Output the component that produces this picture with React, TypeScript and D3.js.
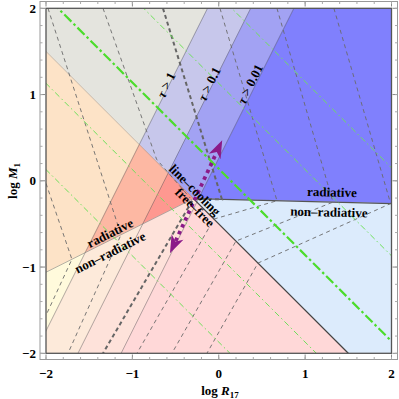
import React from "react";
import * as d3 from "d3";

type Pt = [number, number];

// optical depth lines: log M = 2 log R + b
const tauSlope = 2;
const tauIntercepts = [2.26, 1.26, 0.26];
const tauNames = ["1", "0.1", "0.01"];

// line-cooling / free-free boundary
const coolingLine: Pt = [-1, -0.5];
// radiative / non-radiative boundary (left part on free-free side, right part on line-cooling side)
const radLeft: Pt = [0.5, -0.06];
const radRight: Pt = [-0.025, -0.214];

// green dash-dot lines, log M = -log R + c
const greenSlope = -1;
const greenIntercepts = [2.15, 1.13, 0.14, -0.87, -1.87];
const greenThickIndex = 2;

// gray dashed contours
const contours: Pt[][] = [
  [[-2, -0.03], [-1.7, -0.91], [-2, -1.56]],
  [[-1.977, 2], [-1.132, -0.626], [-1.745, -2]],
  [[-1.34, 2], [-0.72, 0.25], [-0.33, -0.2]],
  [[0.014, 2], [0.674, -0.231], [-0.056, -0.444], [-0.947, -2]],
  [[0.674, 2], [1.322, -0.247], [0.199, -0.699], [-0.542, -2]],
  [[1.333, 2], [1.99, -0.264], [0.454, -0.954], [-0.137, -2]],
];
const thickContour: Pt[] = [[-0.646, 2], [0.037, -0.215], [-0.293, -0.207], [-1.34, -2]];

// purple arrow (lower tip, upper tip)
const arrowEnds: Pt[] = [[-0.565, -0.84], [0.04, 0.47]];

const xTicks = [-2, -1, 0, 1, 2];
const yTicks = [-2, -1, 0, 1, 2];

const palette = {
  lcRad: ["#e4e4de", "#c7c7eb", "#a2a2f3", "#8080fd"],
  lcNon: ["#dcebfc", "#dcebfc", "#dcebfc", "#dcebfc"],
  ffRad: ["#fde3c7", "#fdb8a3", "#fe9890", "#ff8c8c"],
  ffNon: ["#fffadc", "#fdeada", "#fee2da", "#ffd8d8"],
};

const FONT = "'Liberation Serif', 'DejaVu Serif', serif";

function clipHalf(poly: Pt[], line: Pt, above: boolean): Pt[] {
  const f = (p: Pt) => (above ? 1 : -1) * (p[1] - line[0] * p[0] - line[1]);
  const out: Pt[] = [];
  for (let i = 0; i < poly.length; i++) {
    const p = poly[i];
    const q = poly[(i + 1) % poly.length];
    const fp = f(p);
    const fq = f(q);
    if (fp >= 0) out.push(p);
    if (fp >= 0 !== fq >= 0) {
      const t = fp / (fp - fq);
      out.push([p[0] + t * (q[0] - p[0]), p[1] + t * (q[1] - p[1])]);
    }
  }
  return out;
}

const fmt = (d: number) => (d < 0 ? "\u2212" + Math.abs(d) : String(d));

export default function App() {
  const x = d3.scaleLinear().domain([-2, 2]).range([46, 391.5]);
  const y = d3.scaleLinear().domain([-2, 2]).range([353.3, 8.3]);
  const line = d3
    .line<Pt>()
    .x((d) => x(d[0]))
    .y((d) => y(d[1]));

  const square: Pt[] = [[-2, -2], [2, -2], [2, 2], [-2, 2]];
  const tauLines: Pt[] = tauIntercepts.map((b) => [tauSlope, b] as Pt);

  const physics: { key: keyof typeof palette; cuts: [Pt, boolean][] }[] = [
    { key: "lcRad", cuts: [[coolingLine, true], [radRight, true]] },
    { key: "lcNon", cuts: [[coolingLine, true], [radRight, false]] },
    { key: "ffRad", cuts: [[coolingLine, false], [radLeft, true]] },
    { key: "ffNon", cuts: [[coolingLine, false], [radLeft, false]] },
  ];

  const cells: { d: string; fill: string }[] = [];
  physics.forEach((ph) => {
    for (let bin = 0; bin < 4; bin++) {
      let poly = square;
      ph.cuts.forEach(([l, a]) => (poly = clipHalf(poly, l, a)));
      if (bin > 0) poly = clipHalf(poly, tauLines[bin - 1], false);
      if (bin < 3) poly = clipHalf(poly, tauLines[bin], true);
      if (poly.length < 3) continue;
      const fill = palette[ph.key][bin];
      cells.push({ d: line(poly) + "Z", fill });
    }
  });

  // junction of cooling line and left radiative line
  const jx = (radLeft[1] - coolingLine[1]) / (coolingLine[0] - radLeft[0]);
  const jy = coolingLine[0] * jx + coolingLine[1];

  const lineAt = (l: Pt, x0: number, x1: number): Pt[] => [
    [x0, l[0] * x0 + l[1]],
    [x1, l[0] * x1 + l[1]],
  ];

  // purple arrows
  const p0: Pt = [x(arrowEnds[0][0]), y(arrowEnds[0][1])];
  const p1: Pt = [x(arrowEnds[1][0]), y(arrowEnds[1][1])];
  const len = Math.hypot(p1[0] - p0[0], p1[1] - p0[1]);
  const u: Pt = [(p1[0] - p0[0]) / len, (p1[1] - p0[1]) / len];
  const n: Pt = [-u[1], u[0]];
  const L = 18;
  const hw = 6.5;
  const head = (tip: Pt, s: number) => {
    const bx = tip[0] - s * u[0] * L;
    const by = tip[1] - s * u[1] * L;
    const nx = tip[0] - s * u[0] * L * 0.72;
    const ny = tip[1] - s * u[1] * L * 0.72;
    return `M${tip[0]},${tip[1]}L${bx + n[0] * hw},${by + n[1] * hw}L${nx},${ny}L${bx - n[0] * hw},${by - n[1] * hw}Z`;
  };
  const b0: Pt = [p0[0] + u[0] * L * 0.75, p0[1] + u[1] * L * 0.75];
  const b1: Pt = [p1[0] - u[0] * L * 0.75, p1[1] - u[1] * L * 0.75];

  const angle = (slope: number) =>
    (Math.atan2(-(slope * 86.25), 86.4) * 180) / Math.PI;

  const labels = [
    { t: "rad", text: "radiative", at: [1.31, -0.13] as Pt, rot: angle(radRight[0]) },
    { t: "rad", text: "non\u2013radiative", at: [1.275, -0.362] as Pt, rot: angle(radRight[0]) },
    { t: "rad", text: "radiative", at: [-1.259, -0.605] as Pt, rot: angle(radLeft[0]) },
    { t: "rad", text: "non\u2013radiative", at: [-1.259, -0.83] as Pt, rot: angle(radLeft[0]) },
    { t: "rad", text: "line\u2013cooling", at: [-0.275, -0.107] as Pt, rot: angle(coolingLine[0]) },
    { t: "rad", text: "free\u2013free", at: [-0.275, -0.31] as Pt, rot: angle(coolingLine[0]) },
  ];
  const tauLabelAt: Pt[] = [[-0.611, 1.111], [-0.113, 1.122], [0.361, 1.122]];

  const minor = d3.range(-2, 2.001, 0.2).map((v) => +v.toFixed(2));

  return (
    <svg
      width={399}
      height={399}
      style={{ position: "absolute", left: 0, top: 0, background: "#fff" }}
      fontFamily={FONT}
    >
      <defs>
        <clipPath id="plotclip">
          <rect x={46} y={8.3} width={345.5} height={345} />
        </clipPath>
      </defs>
      <g clipPath="url(#plotclip)">
        {cells.map((c, i) => (
          <path key={i} d={c.d} fill={c.fill} stroke={c.fill} strokeWidth={0.6} />
        ))}
        {tauLines.map((l, i) => (
          <path key={"tau" + i} d={line(lineAt(l, -3, 3)) || ""} stroke="#555" strokeOpacity={0.45} strokeWidth={1} fill="none" />
        ))}
        <path d={line(lineAt(coolingLine, -2.5, jx)) || ""} stroke="#777" strokeOpacity={0.4} strokeWidth={1} fill="none" />
        <path d={line(lineAt(coolingLine, jx, 2.5)) || ""} stroke="#444" strokeWidth={1.3} fill="none" />
        <path d={line(lineAt(radLeft, -2.5, jx)) || ""} stroke="#777" strokeOpacity={0.55} strokeWidth={1} fill="none" />
        <path d={line(lineAt(radRight, jx, 2.5)) || ""} stroke="#555" strokeWidth={1.3} fill="none" />

        {contours.map((c, i) => (
          <path key={"c" + i} d={line(c) || ""} stroke="#6a6a6a" strokeWidth={0.9} strokeDasharray="4 3.5" fill="none" />
        ))}
        <path d={line(thickContour) || ""} stroke="#666" strokeWidth={2} strokeDasharray="4 3" fill="none" />

        {greenIntercepts.map((c, i) => (
          <path
            key={"g" + i}
            d={line(lineAt([greenSlope, c], -3, 3)) || ""}
            stroke={i === greenThickIndex ? "#4cdc2c" : "#6ee05a"}
            strokeWidth={i === greenThickIndex ? 2.2 : 1}
            strokeDasharray={i === greenThickIndex ? "10 3 2.5 3" : "6 3 1.5 3"}
            fill="none"
          />
        ))}

        <path
          d={`M${b0[0]},${b0[1]}L${b1[0]},${b1[1]}`}
          stroke="#8b1a89"
          strokeWidth={3.8}
          strokeDasharray="3.5 4"
          fill="none"
        />
        <path d={head(p1, 1)} fill="#8b1a89" />
        <path d={head(p0, -1)} fill="#8b1a89" />
      </g>

      {tauNames.map((t, i) => {
        const [lx, ly] = tauLabelAt[i];
        return (
          <text
            key={"tl" + i}
            transform={`translate(${x(lx)},${y(ly)}) rotate(${angle(tauSlope)})`}
            textAnchor="middle"
            dominantBaseline="central"
            fontSize={13}
            fontWeight="bold"
          >
            <tspan fontStyle="italic">τ</tspan>
            {" > " + t}
          </text>
        );
      })}
      {labels.map((l, i) => (
        <text
          key={"lb" + i}
          transform={`translate(${x(l.at[0])},${y(l.at[1])}) rotate(${l.rot})`}
          textAnchor="middle"
          dominantBaseline="central"
          fontSize={13}
          fontWeight="bold"
        >
          {l.text}
        </text>
      ))}

      {/* plot border */}
      <rect x={46} y={8.3} width={345.5} height={345} fill="none" stroke="#555" strokeWidth={1.3} />

      {/* frame */}
      <rect x={40} y={1.5} width={357.5} height={358} fill="none" stroke="#999" strokeWidth={1} />
      {yTicks.map((v) => (
        <g key={"yt" + v}>
          <line x1={40} x2={45} y1={y(v)} y2={y(v)} stroke="#888" />
          <line x1={397.5} x2={392.5} y1={y(v)} y2={y(v)} stroke="#888" />
          <text x={36} y={y(v)} textAnchor="end" dominantBaseline="central" fontSize={13} fontWeight="bold">
            {fmt(v)}
          </text>
        </g>
      ))}
      {xTicks.map((v) => (
        <g key={"xt" + v}>
          <line x1={x(v)} x2={x(v)} y1={359.5} y2={354.5} stroke="#888" />
          <line x1={x(v)} x2={x(v)} y1={1.5} y2={6.5} stroke="#888" />
          <text x={x(v)} y={377.5} textAnchor="middle" fontSize={13} fontWeight="bold">
            {fmt(v)}
          </text>
        </g>
      ))}
      {minor.map((v) => (
        <g key={"mn" + v}>
          <line x1={40} x2={42.5} y1={y(v)} y2={y(v)} stroke="#aaa" />
          <line x1={397.5} x2={395} y1={y(v)} y2={y(v)} stroke="#aaa" />
          <line x1={x(v)} x2={x(v)} y1={359.5} y2={357} stroke="#aaa" />
          <line x1={x(v)} x2={x(v)} y1={1.5} y2={4} stroke="#aaa" />
        </g>
      ))}

      <text x={220} y={395} textAnchor="middle" fontSize={13} fontWeight="bold">
        log <tspan fontStyle="italic">R</tspan>
        <tspan fontSize={9} dy={3}>17</tspan>
      </text>
      <text transform="translate(17,181) rotate(-90)" textAnchor="middle" fontSize={13} fontWeight="bold">
        log <tspan fontStyle="italic">M</tspan>
        <tspan fontSize={9} dy={3}>1</tspan>
      </text>
    </svg>
  );
}
